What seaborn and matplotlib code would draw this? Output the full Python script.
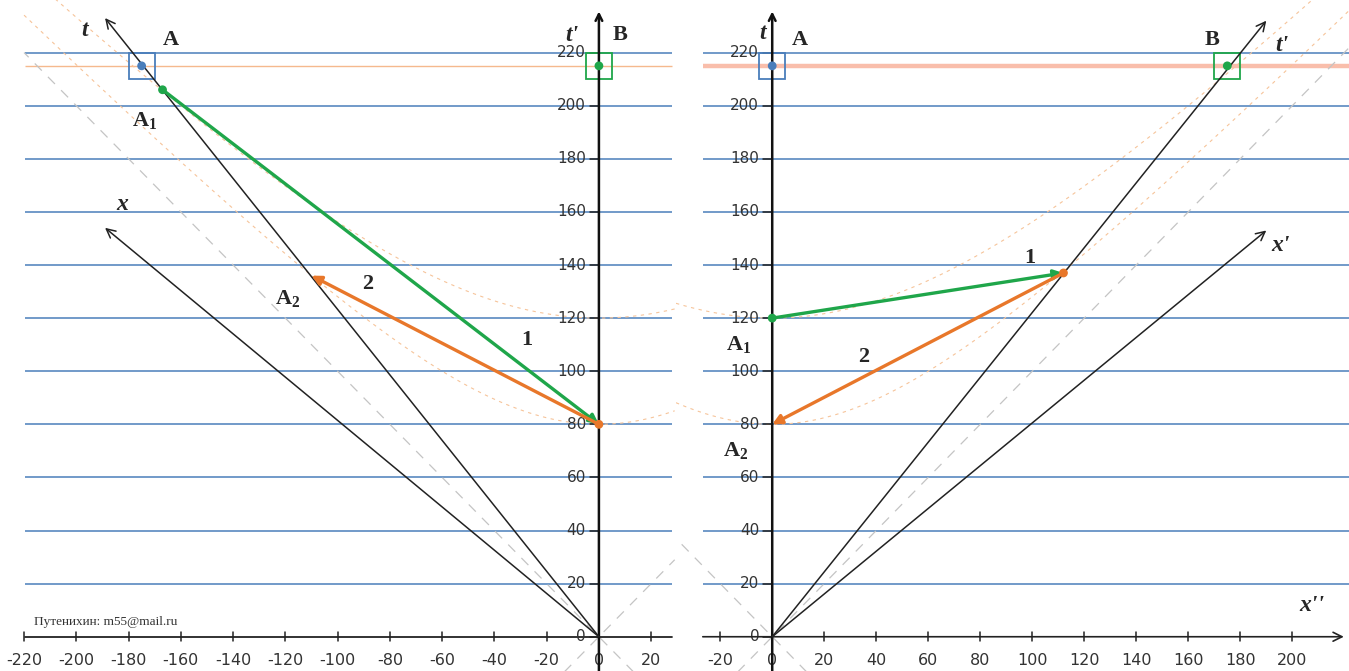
import numpy as np
import pandas as pd
import matplotlib
matplotlib.use("Agg")
import matplotlib.pyplot as plt
import seaborn as sns
from matplotlib.patches import Rectangle

sns.set_style("white")
plt.rcParams["mathtext.fontset"] = "custom"
plt.rcParams["mathtext.rm"] = "Liberation Serif"
plt.rcParams["mathtext.bf"] = "Liberation Serif:bold"

# ---- data ----
t_levels = [20, 40, 60, 80, 100, 120, 140, 160, 180, 200, 220]
t_ticks = [0, 20, 40, 60, 80, 100, 120, 140, 160, 180, 200, 220]
x_ticks_left = [-220, -200, -180, -160, -140, -120, -100, -80, -60, -40, -20, 0, 20]
x_ticks_right = [-20, 0, 20, 40, 60, 80, 100, 120, 140, 160, 180, 200]
taus = [80, 120]          # proper-time hyperbolas
t_event = 215             # time of events A and B

# left panel: frame of B (t' vertical)
left_t_tip = (-189, 233)
left_x_tip = (-189, 154)
left_A = (-175, 215)
left_B = (0, 215)
left_A1 = (-167, 206)
left_A2 = (-110, 136)
left_O80 = (0, 80)

# right panel: frame of A (t vertical)
right_tp_tip = (190, 232)
right_xp_tip = (190, 153)
right_A = (0, 215)
right_B = (175, 215)
right_P = (112, 137)
right_A1 = (0, 120)
right_A2 = (0, 80)

BLUE = "#4a7ebb"
GREEN = "#1fa64a"
ORANGE = "#e8772a"
LORANGE = "#f6c49a"
GREY = "#c4c4c4"
BG = "#f9fafb"

fig = plt.figure(figsize=(13.49, 6.71), dpi=100, facecolor="white")
axL = fig.add_axes([0, 0, 676 / 1349, 1])
axR = fig.add_axes([676 / 1349, 0, 673 / 1349, 1])
axL.set_xlim(-229.2, 29.5)
axR.set_xlim(-37.0, 221.8)
for ax in (axL, axR):
    ax.set_ylim(-12.9, 239.8)
    ax.set_facecolor(BG)
    ax.axis("off")
    ax.patch.set_visible(True)

serif = "Liberation Serif"


def label(ax, x, y, s, size=16, style="normal"):
    ax.text(x, y, s, fontsize=size, fontfamily=serif, fontweight="bold",
            fontstyle=style, ha="center", va="center", zorder=8)


def arrow(ax, start, tip, color, lw, style="-|>", ms=14):
    ax.annotate("", xy=tip, xytext=start,
                arrowprops=dict(arrowstyle=style, color=color, lw=lw,
                                mutation_scale=ms, shrinkA=0, shrinkB=0),
                zorder=6)


def frame(ax, x0, x1, xticks, arrow_right):
    # horizontal grid lines
    ax.hlines(t_levels, x0, x1, color=BLUE, lw=1.1, zorder=1)
    # horizontal axis
    if arrow_right:
        arrow(ax, (x0, 0), (x1 - 2, 0), "#222222", 1.2, "->", 16)
    else:
        ax.plot([x0, x1], [0, 0], color="#222222", lw=1.3, zorder=3)
    for xt in xticks:
        ax.plot([xt, xt], [-1.6, 1.6], color="#222222", lw=1.1, zorder=3)
        ax.text(xt, -9, str(xt), fontsize=11.5, ha="center", va="center",
                color="#333333", fontfamily="DejaVu Sans", zorder=4)
    # vertical axis with arrow
    arrow(ax, (0, -13), (0, 235.5), "#111111", 1.8, "->", 12)
    for tt in t_ticks:
        ax.plot([-3.5, 0], [tt, tt], color="#222222", lw=1.1, zorder=3)
        ax.text(-5, tt, str(tt), fontsize=11, ha="right", va="center",
                color="#333333", fontfamily="DejaVu Sans", zorder=4)


def hyperbolas(ax, x0, x1):
    xs = np.linspace(x0, x1, 300)
    df = pd.concat([pd.DataFrame({"x": xs, "t": np.sqrt(tau ** 2 + xs ** 2), "tau": tau})
                    for tau in taus])
    sns.lineplot(data=df, x="x", y="t", units="tau", estimator=None, ax=ax,
                 color=LORANGE, lw=0.8, dashes=(3, 4), legend=False, zorder=2,
                 sort=False)
    # light cone x = -t and x = t, kept inside the drawn frame
    for sgn, reach in ((-1, -x0), (1, x1)):
        ts = np.array([-15, min(reach, 245)])
        ax.plot(sgn * ts, ts, color=GREY, lw=0.9, ls=(0, (8, 7)), zorder=2)


def square(ax, pt, color):
    ax.add_patch(Rectangle((pt[0] - 5, pt[1] - 5), 10, 10, fill=False,
                           ec=color, lw=1.3, zorder=5))


# ---------------- left panel ----------------
frame(axL, -219.7, 28, x_ticks_left, False)
hyperbolas(axL, -220, 29)
axL.hlines(t_event, -219.7, 28, color="#f5b98e", lw=1.0, zorder=1.5)
arrow(axL, (0, 0), left_t_tip, "#222222", 1.1, "->", 16)
arrow(axL, (0, 0), left_x_tip, "#222222", 1.1, "->", 16)
arrow(axL, left_A1, left_O80, GREEN, 2.4)
arrow(axL, left_O80, left_A2, ORANGE, 2.4)
square(axL, left_A, BLUE)
square(axL, left_B, GREEN)
pts = pd.DataFrame({"x": [left_A[0], left_B[0], left_A1[0], left_O80[0]],
                    "t": [left_A[1], left_B[1], left_A1[1], left_O80[1]],
                    "c": [BLUE, GREEN, GREEN, ORANGE]})
sns.scatterplot(data=pts, x="x", y="t", c=pts["c"], s=40, edgecolor="none",
                ax=axL, zorder=7, legend=False)
label(axL, -196.7, 228.5, "t", 17, "italic")
label(axL, -164, 224.7, "A")
label(axL, -174, 194.6, r"$\mathbf{A_1}$")
label(axL, -182.5, 162.6, "x", 17, "italic")
label(axL, -119, 127.5, r"$\mathbf{A_2}$")
label(axL, -88.4, 133, "2")
label(axL, -27.5, 111.7, "1")
label(axL, -10.3, 226.6, "t'", 17, "italic")
label(axL, 8, 226.6, "B")
axL.text(-216, 5.5, "Путенихин: m55@mail.ru", fontsize=9.5, fontfamily=serif,
         ha="left", va="center", color="#333333")

# ---------------- right panel ----------------
frame(axR, -26.7, 221.8, x_ticks_right, True)
hyperbolas(axR, -37, 222)
axR.hlines(t_event, -26.7, 221.8, color="#f7a98f", lw=3.2, alpha=0.75, zorder=1.5)
arrow(axR, (0, 0), right_tp_tip, "#222222", 1.1, "->", 16)
arrow(axR, (0, 0), right_xp_tip, "#222222", 1.1, "->", 16)
arrow(axR, right_A1, right_P, GREEN, 2.4)
arrow(axR, right_P, right_A2, ORANGE, 2.4)
square(axR, right_A, BLUE)
square(axR, right_B, GREEN)
pts = pd.DataFrame({"x": [right_A[0], right_B[0], right_A1[0], right_P[0]],
                    "t": [right_A[1], right_B[1], right_A1[1], right_P[1]],
                    "c": [BLUE, GREEN, GREEN, ORANGE]})
sns.scatterplot(data=pts, x="x", y="t", c=pts["c"], s=40, edgecolor="none",
                ax=axR, zorder=7, legend=False)
label(axR, -3.6, 227.3, "t", 17, "italic")
label(axR, 10.7, 224.7, "A")
label(axR, 169.2, 224.7, "B")
label(axR, 196, 222.8, "t'", 17, "italic")
label(axR, 195.5, 147.4, "x'", 17, "italic")
label(axR, 207.6, 11.9, "x''", 17, "italic")
label(axR, 99, 142.6, "1")
label(axR, 35, 105.3, "2")
label(axR, -13, 109.9, r"$\mathbf{A_1}$")
label(axR, -14, 70.3, r"$\mathbf{A_2}$")

fig.savefig("out.png", dpi=100, facecolor="white")
